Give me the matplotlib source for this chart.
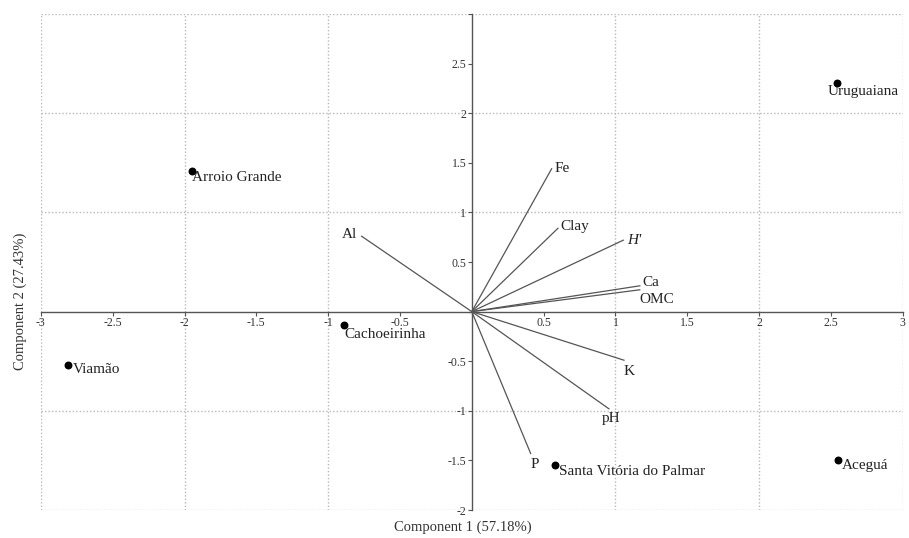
import matplotlib
matplotlib.use("Agg")
import matplotlib.pyplot as plt
from matplotlib.ticker import MultipleLocator, FuncFormatter

plt.rcParams['font.family'] = ['Liberation Serif', 'DejaVu Serif']

# Sites (scores)
sites = ["Uruguaiana", "Arroio Grande", "Cachoeirinha", "Viamão",
         "Santa Vitória do Palmar", "Aceguá"]
site_x = [2.54, -1.95, -0.89, -2.81, 0.58, 2.55]
site_y = [2.30, 1.42, -0.14, -0.54, -1.55, -1.50]

# Variables (loadings)
variables = ["Fe", "Clay", "H'", "Ca", "OMC", "Al", "K", "pH", "P"]
var_x = [0.556, 0.60, 1.055, 1.17, 1.17, -0.767, 1.06, 0.955, 0.41]
var_y = [1.44, 0.84, 0.72, 0.26, 0.22, 0.76, -0.49, -0.98, -1.43]

x_label = "Component 1 (57.18%)"
y_label = "Component 2 (27.43%)"

fig = plt.figure(figsize=(9.09, 5.38), dpi=100)
ax = fig.add_axes([0.045, 0.052, 0.948, 0.922])
ax.set_xlim(-3, 3)
ax.set_ylim(-2, 3)

# spines through origin
ax.spines['left'].set_position(('data', 0))
ax.spines['bottom'].set_position(('data', 0))
for s in ['top', 'right']:
    ax.spines[s].set_visible(False)
for s in ['left', 'bottom']:
    ax.spines[s].set_color('#555555')
    ax.spines[s].set_linewidth(1.0)
    ax.spines[s].set_zorder(2)

ax.xaxis.set_major_locator(MultipleLocator(0.5))
ax.yaxis.set_major_locator(MultipleLocator(0.5))


def fmt_x(v, pos):
    if abs(v) < 1e-9:
        return ""
    return f"{v:g}"


def fmt_y(v, pos):
    if abs(v) < 1e-9 or v > 2.75:
        return ""
    return f"{v:g}"


ax.xaxis.set_major_formatter(FuncFormatter(fmt_x))
ax.yaxis.set_major_formatter(FuncFormatter(fmt_y))
ax.tick_params(axis='both', which='major', direction='out', length=3,
               width=0.8, color='#555555', labelsize=8.5, labelcolor='#333333', pad=1)

# dotted grid at integer positions, including the frame edges
grid_kw = dict(linestyle=(0, (1, 1.5)), color='#b8b8b8', linewidth=1.0, zorder=0.5)
for gx in [-3, -2, -1, 1, 2, 3]:
    ax.axvline(gx, **grid_kw)
for gy in [-2, -1, 1, 2, 3]:
    ax.axhline(gy, **grid_kw)

# vectors
for name, vx, vy in zip(variables, var_x, var_y):
    ax.plot([0, vx], [0, vy], color='#555555', linewidth=0.9, zorder=3)

label_style = dict(fontsize=11, color='#222222', zorder=5)
offsets = {
    "Fe": (0.02, 0.0, 'left', 'center'),
    "Clay": (0.02, 0.02, 'left', 'center'),
    "H'": (0.03, 0.0, 'left', 'center'),
    "Ca": (0.02, 0.03, 'left', 'center'),
    "OMC": (0.0, -0.10, 'left', 'center'),
    "Al": (-0.03, 0.02, 'right', 'center'),
    "K": (0.0, -0.05, 'left', 'top'),
    "pH": (-0.05, -0.03, 'left', 'top'),
    "P": (0.0, -0.05, 'left', 'top'),
}
for name, vx, vy in zip(variables, var_x, var_y):
    dx, dy, ha, va = offsets[name]
    style = 'italic' if name == "H'" else 'normal'
    ax.text(vx + dx, vy + dy, name, ha=ha, va=va, fontstyle=style, **label_style)

# sites
ax.scatter(site_x, site_y, s=22, color='black', zorder=6)
site_off = {
    "Uruguaiana": (-0.06, -0.02, 'left', 'top'),
    "Arroio Grande": (0.0, 0.0, 'left', 'top'),
    "Cachoeirinha": (0.0, -0.03, 'left', 'top'),
    "Viamão": (0.03, 0.02, 'left', 'top'),
    "Santa Vitória do Palmar": (0.03, 0.0, 'left', 'top'),
    "Aceguá": (0.03, 0.01, 'left', 'top'),
}
for name, sx, sy in zip(sites, site_x, site_y):
    dx, dy, ha, va = site_off[name]
    ax.text(sx + dx, sy + dy, name, ha=ha, va=va, **label_style)

fig.text(0.509, 0.02, x_label, ha='center', va='center', fontsize=10.5, color='#333333')
fig.text(0.022, 0.44, y_label, ha='center', va='center', rotation=90,
         fontsize=10.5, color='#333333')

fig.savefig("out.png", dpi=100)
